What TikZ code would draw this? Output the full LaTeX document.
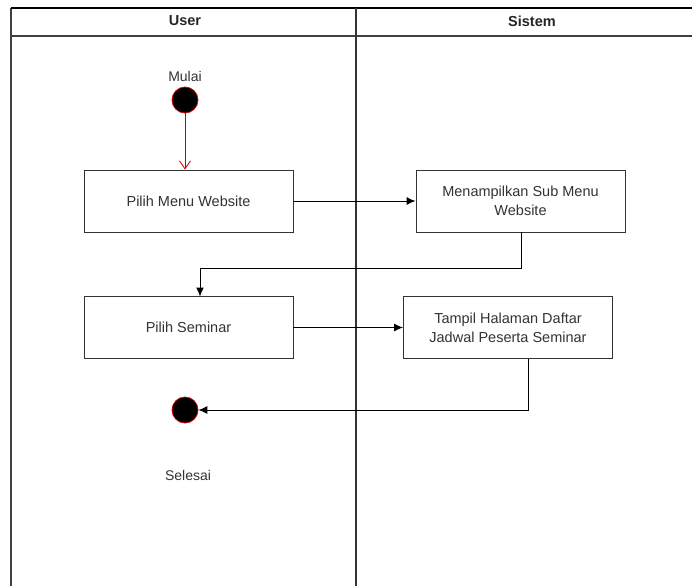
\documentclass[tikz,border=0pt]{standalone}
\usepackage{fontspec}
\setmainfont{Liberation Sans}
\usetikzlibrary{arrows.meta}
\begin{document}
\begin{tikzpicture}[x=1pt,y=-1pt,
  lane/.style={draw=black!75,line width=1.4pt},
  action/.style={draw=black!80,line width=0.9pt,minimum width=209pt,minimum height=62pt,
    align=center,font=\fontsize{14.5}{19}\selectfont,text=black!80,inner sep=2pt},
  state/.style={circle,fill=black,draw=red!80!black,line width=0.8pt,minimum size=26pt,inner sep=0pt},
  flow/.style={draw=black,line width=1pt,-{Latex[length=9pt,width=8pt]}},
  startflow/.style={draw=red!80!black,line width=0.8pt,-{Straight Barb[length=8pt,width=11pt]}},
  lbl/.style={font=\fontsize{14}{17}\selectfont,text=black!80},
  hdr/.style={font=\bfseries\fontsize{14.5}{17}\selectfont,text=black!85}]
\useasboundingbox (0,0) rectangle (692,586);
\fill[white] (0,0) rectangle (692,586);

% swimlane frame
\draw[lane] (11,586) -- (11,8);
\draw[draw=black,line width=1.6pt] (11,8) -- (692,8);
\draw[lane] (11,36) -- (692,36);
\draw[draw=black!80,line width=2pt] (355.5,8) -- (355.5,586);
\node[hdr] (huser) at (185,21) {User};
\node[hdr] (hsys) at (532,21) {Sistem};

% activity nodes
\node[state] (start) at (185,100) {};
\node[lbl] (mulai) at (185,76) {Mulai};
\node[action] (a1) at (188.5,201) {Pilih Menu Website};
\node[action] (a2) at (520.5,201) {Menampilkan Sub Menu\\Website};
\node[action] (a3) at (188.5,327.5) {Pilih Seminar};
\node[action] (a4) at (508,327.5) {Tampil Halaman Daftar\\Jadwal Peserta Seminar};
\node[state] (stop) at (185,410) {};
\node[lbl] (selesai) at (188,475) {Selesai};

% control flows
\draw[startflow] (start) -- (start |- a1.north);
\draw[flow] (a1) -- (a2);
\draw[flow] (a2.south) ++(0.5,0) |- (200,268) -- (200,296.5);
\draw[flow] (a3) -- (a4);
\draw[flow] (a4.south) ++(20,0) |- (stop);
\end{tikzpicture}
\end{document}
